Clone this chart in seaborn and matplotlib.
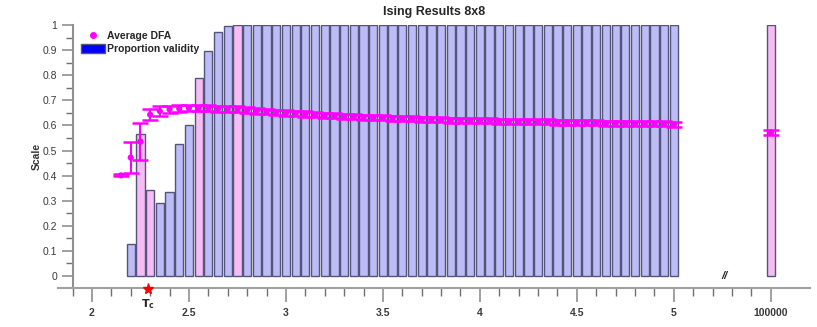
import numpy as np
import pandas as pd
import seaborn as sns
import matplotlib.pyplot as plt
from matplotlib.lines import Line2D
from matplotlib.patches import Patch

# temperatures (100000 is drawn at 5.5 on a broken axis)
temps = [2.15, 2.20, 2.25, 2.30, 2.35, 2.40, 2.45, 2.50, 2.55, 2.60,
         2.65, 2.70, 2.75, 2.80, 2.85, 2.90, 2.95, 3.00, 3.05, 3.10,
         3.15, 3.20, 3.25, 3.30, 3.35, 3.40, 3.45, 3.50, 3.55, 3.60,
         3.65, 3.70, 3.75, 3.80, 3.85, 3.90, 3.95, 4.00, 4.05, 4.10,
         4.15, 4.20, 4.25, 4.30, 4.35, 4.40, 4.45, 4.50, 4.55, 4.60,
         4.65, 4.70, 4.75, 4.80, 4.85, 4.90, 4.95, 5.00, 5.5]
temp_labels = ['2', '2.5', '3', '3.5', '4', '4.5', '5', '100000']

validity = [0.0, 0.127, 0.565, 0.342, 0.290, 0.334, 0.525, 0.600, 0.790, 0.895,
            0.972, 0.996, 1.0, 1.0, 1.0, 1.0, 1.0, 1.0, 1.0, 1.0,
            1.0, 1.0, 1.0, 1.0, 1.0, 1.0, 1.0, 1.0, 1.0, 1.0,
            1.0, 1.0, 1.0, 1.0, 1.0, 1.0, 1.0, 1.0, 1.0, 1.0,
            1.0, 1.0, 1.0, 1.0, 1.0, 1.0, 1.0, 1.0, 1.0, 1.0,
            1.0, 1.0, 1.0, 1.0, 1.0, 1.0, 1.0, 1.0, 1.0]
highlight = [2.25, 2.30, 2.55, 2.75, 5.5]

dfa = [0.401, 0.472, 0.536, 0.643, 0.657, 0.664, 0.667, 0.669, 0.670, 0.669,
       0.667, 0.665, 0.664, 0.661, 0.658, 0.655, 0.652, 0.650, 0.648, 0.645,
       0.642, 0.640, 0.638, 0.636, 0.635, 0.633, 0.632, 0.630, 0.629, 0.627,
       0.626, 0.625, 0.624, 0.622, 0.621, 0.620, 0.619, 0.618, 0.618, 0.617,
       0.616, 0.615, 0.615, 0.614, 0.614, 0.613, 0.613, 0.612, 0.610, 0.610,
       0.609, 0.609, 0.608, 0.607, 0.607, 0.606, 0.606, 0.604, 0.572]
dfa_err = [0.004, 0.063, 0.072, 0.023, 0.019, 0.015, 0.014, 0.013, 0.013, 0.012,
           0.012, 0.012, 0.012, 0.011, 0.011, 0.011, 0.011, 0.011, 0.011, 0.011,
           0.010, 0.010, 0.010, 0.010, 0.010, 0.010, 0.010, 0.010, 0.010, 0.010,
           0.010, 0.010, 0.010, 0.010, 0.010, 0.010, 0.010, 0.010, 0.010, 0.010,
           0.010, 0.010, 0.010, 0.010, 0.010, 0.010, 0.010, 0.010, 0.010, 0.010,
           0.010, 0.010, 0.010, 0.010, 0.010, 0.010, 0.010, 0.010, 0.010]
t_c = 2.29

df = pd.DataFrame({'T': temps, 'validity': validity, 'dfa': dfa, 'err': dfa_err})
df['group'] = np.where(df['T'].isin(highlight), 'pink', 'blue')

sns.set_style('ticks')
plt.rcParams['font.family'] = ['Liberation Sans', 'DejaVu Sans']

fig = plt.figure(figsize=(8.17, 3.27), dpi=100)
ax = fig.add_axes([0.071, 0.119, 0.92, 0.8045])

sns.barplot(data=df, x='T', y='validity', hue='group', native_scale=True,
            palette={'blue': '#b3b3ff', 'pink': '#ffb3ff'}, width=0.85,
            dodge=False, errorbar=None, edgecolor='#55557a', linewidth=1,
            legend=False, ax=ax)
# no outline for empty bars
for p in ax.patches:
    if p.get_height() == 0:
        p.set_linewidth(0)

ax.errorbar(df['T'], df['dfa'], yerr=df['err'], fmt='none', ecolor='#ff00ff',
            elinewidth=1.5, capsize=5.5, capthick=1.8, zorder=4)
sns.scatterplot(data=df, x='T', y='dfa', color='#ff00ff', s=20,
                edgecolor='none', zorder=5, ax=ax)

ax.set_xlim(1.825, 5.70)
ax.set_ylim(-0.048, 1.0)

ax.set_xticks([2, 2.5, 3, 3.5, 4, 4.5, 5, 5.5])
ax.set_xticklabels(temp_labels)
ax.set_xticks([t for t in np.arange(1.9, 5.45, 0.1) if abs(t * 2 - round(t * 2)) > 0.01],
              minor=True)
ax.set_yticks(np.arange(0, 1.01, 0.1))
ax.set_yticklabels(['0', '0.1', '0.2', '0.3', '0.4', '0.5', '0.6', '0.7', '0.8', '0.9', '1'])
ax.set_yticks(np.arange(0.05, 1.0, 0.1), minor=True)

ax.tick_params(axis='x', which='major', length=10, width=1.2, color='#909090',
               labelsize=7.5, labelcolor='#3a3a3a', pad=4)
ax.tick_params(axis='x', which='minor', length=6, width=1, color='#707070')
ax.tick_params(axis='y', which='major', length=8, width=1.2, color='#909090',
               labelsize=7.5, labelcolor='#3a3a3a', pad=3)
ax.tick_params(axis='y', which='minor', length=5, width=1, color='#707070')
for lab in ax.get_xticklabels() + ax.get_yticklabels():
    lab.set_fontweight('bold')

sns.despine(ax=ax)
ax.spines['left'].set_position(('data', 1.9))
ax.spines['left'].set_color('#909090')
ax.spines['left'].set_linewidth(1.5)
ax.spines['bottom'].set_color('#a0a0a0')
ax.spines['bottom'].set_linewidth(1.5)

ax.set_xlabel('')
ax.set_ylabel('Scale', fontsize=7.5, fontweight='bold', color='#333333')
ax.yaxis.set_label_coords(-0.022, 0.50)
ax.set_title('Ising Results 8x8', fontsize=9, fontweight='bold', pad=7)

# critical temperature marker
ax.plot([t_c], [-0.052], marker='*', color='red', markersize=8, clip_on=False, zorder=6)
ax.text(t_c, -0.085, r'$\mathbf{T_c}$', ha='center', va='top', fontsize=8,
        transform=ax.transData)
ax.text(5.26, 0.0, '//', ha='center', va='center', fontsize=8,
        fontweight='bold', style='italic')

handles = [Line2D([], [], marker='o', color='#ff00ff', linestyle='none', markersize=4),
           Patch(facecolor='#0000ff', edgecolor='#55557a')]
ax.legend(handles, ['Average DFA', 'Proportion validity'], loc='upper left',
          bbox_to_anchor=(0.022, 1.0), frameon=False, handlelength=2.3,
          handleheight=1.0, handletextpad=0.25, labelspacing=0.25, borderaxespad=0.2,
          prop={'size': 7.5, 'weight': 'bold'})

fig.savefig('out.png', dpi=100)
